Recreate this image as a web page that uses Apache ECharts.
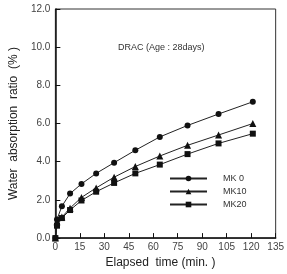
<!DOCTYPE html>
<html>
<head>
<meta charset="utf-8">
<script src="https://cdn.jsdelivr.net/npm/echarts@6/dist/echarts.min.js"></script>
<style>
html, body { margin: 0; padding: 0; background: #fff; }
#chart { width: 287px; height: 274px; }
</style>
</head>
<body>
<div id="chart"></div>
<script>
// elapsed time (min.)
var times = [0, 1, 4, 9, 16, 25, 36, 49, 64, 81, 100, 121];
var mk0 = [0, 0.98, 1.67, 2.33, 2.84, 3.39, 3.95, 4.6, 5.3, 5.9, 6.5, 7.14];
var mk10 = [0, 0.85, 1.1, 1.57, 2.13, 2.63, 3.19, 3.75, 4.3, 4.86, 5.4, 6.0];
var mk20 = [0, 0.65, 1.05, 1.47, 1.97, 2.43, 2.89, 3.39, 3.85, 4.4, 4.96, 5.47];
var seriesNames = ['MK 0', 'MK10', 'MK20'];
var seriesSymbols = ['circle', 'triangle', 'rect'];

function pairs(vals) {
  return times.map(function (t, i) { return [t, vals[i]]; });
}

var myChart = echarts.init(document.getElementById('chart'));

var font = 'Liberation Sans, Arial, sans-serif';

option = {
  backgroundColor: '#fff',
  animation: false,
  title: {
    text: 'DRAC (Age : 28days)',
    left: 113,
    top: 38,
    textStyle: { fontSize: 9, fontWeight: 'normal', color: '#333', fontFamily: font }
  },
  grid: {
    left: 44, right: 8, top: 9, bottom: 28,
    show: true, borderColor: '#333', borderWidth: 1
  },
  legend: {
    orient: 'vertical',
    left: 164,
    top: 169,
    itemWidth: 37,
    itemHeight: 7,
    itemGap: 4,
    data: seriesNames,
    textStyle: { fontSize: 9, color: '#333', fontFamily: font, padding: [0, 0, 0, 11] }
  },
  xAxis: {
    type: 'value',
    min: 0, max: 135, interval: 15,
    name: 'Elapsed  time (min. )',
    nameLocation: 'middle',
    nameGap: 16,
    nameTextStyle: { fontSize: 12, color: '#222', fontFamily: font, padding: [0, 10, 0, 0] },
    axisLine: { lineStyle: { color: '#111', width: 1.5 } },
    axisTick: { inside: true, length: 5, lineStyle: { color: '#111' } },
    axisLabel: { fontSize: 10, color: '#444', margin: 4, fontFamily: font },
    splitLine: { show: false }
  },
  yAxis: {
    type: 'value',
    min: 0, max: 12, interval: 2,
    name: 'Water  absorption  ratio  (% )',
    nameLocation: 'middle',
    nameGap: 31,
    nameTextStyle: { fontSize: 12, color: '#222', fontFamily: font },
    axisLine: { lineStyle: { color: '#111', width: 1.5 } },
    axisTick: { inside: true, length: 5, lineStyle: { color: '#111' } },
    axisLabel: {
      fontSize: 10, color: '#444', margin: 5, fontFamily: font,
      formatter: function (v) { return v.toFixed(1); }
    },
    splitLine: { show: false }
  },
  series: [mk0, mk10, mk20].map(function (vals, i) {
    return {
      name: seriesNames[i],
      type: 'line',
      data: pairs(vals),
      symbol: seriesSymbols[i],
      symbolSize: i === 1 ? 7 : 6,
      showAllSymbol: true,
      itemStyle: { color: '#111' },
      lineStyle: { color: '#222', width: 1 }
    };
  })
};

myChart.setOption(option);
</script>
</body>
</html>
